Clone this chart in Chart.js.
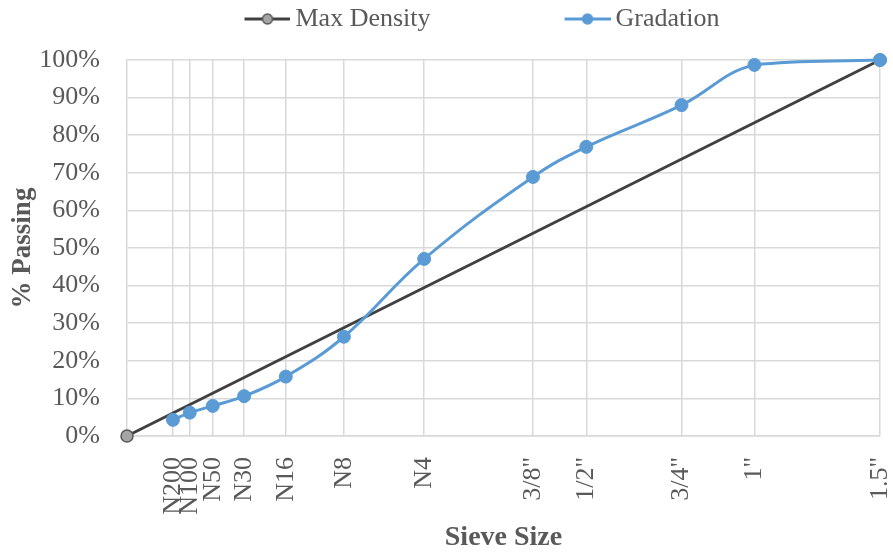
<!DOCTYPE html>
<html>
<head>
<meta charset="utf-8">
<script src="https://cdn.jsdelivr.net/npm/chart.js@4.4.1/dist/chart.umd.min.js"></script>
<style>
    html, body { margin: 0; padding: 0; background: #fff; }
    canvas { display: block; }
</style>
</head>
<body>
<canvas id="gradation-chart" width="893" height="552"></canvas>
<script>
// sieve openings (mm) and their labels
const sieveLabels = ['N200', 'N100', 'N50', 'N30', 'N16', 'N8', 'N4', '3/8"', '1/2"', '3/4"', '1"', '1.5"'];
const sieveSizesMm = [0.075, 0.15, 0.3, 0.6, 1.18, 2.36, 4.75, 9.5, 12.5, 19, 25, 37.5];

// % passing
const gradationPassing = [4.3, 6.2, 8.0, 10.6, 15.8, 26.4, 47.1, 68.9, 76.9, 88.0, 98.7, 100];

// maximum density line: origin to the nominal max size
const maxDensitySizesMm = [0, 37.5];
const maxDensityPassing = [0, 100];

const yTickValues = [0, 10, 20, 30, 40, 50, 60, 70, 80, 90, 100];

const POWER = 0.45;
const TEXT_COLOR = '#595959';
const GRID_COLOR = '#d9d9d9';
const FONT_FAMILY = "'Liberation Serif', 'Times New Roman', serif";
const LEGEND_BOX = 162;
const LEGEND_DX = -20;
const LEGEND_DY = -18;

// 0.45 power gradation axis
class PowerScale extends Chart.LinearScale {
    getPixelForValue(value) {
        if (value === null || value === undefined) return NaN;
        const lo = Math.pow(this.min, POWER);
        const hi = Math.pow(this.max, POWER);
        return this.getPixelForDecimal((Math.pow(value, POWER) - lo) / (hi - lo));
    }
    getValueForPixel(pixel) {
        const lo = Math.pow(this.min, POWER);
        const hi = Math.pow(this.max, POWER);
        return Math.pow(lo + this.getDecimalForPixel(pixel) * (hi - lo), 1 / POWER);
    }
}
PowerScale.id = 'power045';
PowerScale.defaults = Chart.LinearScale.defaults;
Chart.register(PowerScale);

function legendSymbol(lineColor, fill, stroke) {
    const c = document.createElement('canvas');
    c.width = LEGEND_BOX + 16;
    c.height = 16;
    const g = c.getContext('2d');
    const x0 = c.width - 46;
    g.strokeStyle = lineColor;
    g.lineWidth = 3;
    g.beginPath();
    g.moveTo(x0, 8);
    g.lineTo(c.width, 8);
    g.stroke();
    g.beginPath();
    g.arc(x0 + 23, 8, 5, 0, Math.PI * 2);
    g.fillStyle = fill;
    g.fill();
    g.lineWidth = 1.5;
    g.strokeStyle = stroke;
    g.stroke();
    return c;
}

const legendNudge = {
    id: 'legendNudge',
    afterLayout(chart) {
        const lg = chart.legend;
        lg.left += LEGEND_DX;
        lg.right += LEGEND_DX;
        lg.top += LEGEND_DY;
        lg.bottom += LEGEND_DY;
    }
};

const symbols = [
    legendSymbol('#404040', '#a5a5a5', '#595959'),
    legendSymbol('#5b9bd5', '#5b9bd5', '#5b9bd5')
];

Chart.defaults.font.family = FONT_FAMILY;
Chart.defaults.color = TEXT_COLOR;

new Chart(document.getElementById('gradation-chart'), {
    type: 'line',
    data: {
        datasets: [{
            label: 'Max Density',
            data: maxDensitySizesMm.map((x, i) => ({ x, y: maxDensityPassing[i] })),
            borderColor: '#404040',
            borderWidth: 3,
            pointRadius: 6,
            pointBackgroundColor: '#a5a5a5',
            pointBorderColor: '#595959',
            pointBorderWidth: 1.5,
            tension: 0,
            clip: false,
            order: 1
        }, {
            label: 'Gradation',
            data: sieveSizesMm.map((x, i) => ({ x, y: gradationPassing[i] })),
            borderColor: '#5b9bd5',
            borderWidth: 3,
            pointRadius: 6.5,
            pointBackgroundColor: '#5b9bd5',
            pointBorderColor: '#5b9bd5',
            pointBorderWidth: 1,
            tension: 0.4,
            clip: false,
            order: 0
        }]
    },
    options: {
        responsive: false,
        animation: false,
        layout: { padding: { left: 0, right: 13, top: 14, bottom: 0 } },
        plugins: {
            tooltip: { enabled: false },
            legend: {
                position: 'top',
                labels: {
                    usePointStyle: true,
                    pointStyleWidth: LEGEND_BOX,
                    padding: 10,
                    color: TEXT_COLOR,
                    font: { size: 26 },
                    generateLabels: (chart) => chart.data.datasets.map((ds, i) => ({
                        text: ds.label,
                        pointStyle: symbols[i],
                        fontColor: TEXT_COLOR,
                        lineWidth: 0,
                        strokeStyle: 'transparent',
                        fillStyle: 'transparent',
                        datasetIndex: i,
                        hidden: false
                    }))
                }
            }
        },
        scales: {
            x: {
                type: 'power045',
                min: 0,
                max: 37.5,
                afterBuildTicks: (scale) => {
                    scale.ticks = sieveSizesMm.map(v => ({ value: v }));
                },
                afterFit: (scale) => {
                    scale.height = 116;
                    scale.paddingLeft = 0;
                    scale.paddingRight = 0;
                },
                ticks: {
                    autoSkip: false,
                    maxRotation: 90,
                    minRotation: 90,
                    padding: 21,
                    color: TEXT_COLOR,
                    font: { size: 26 },
                    callback: (value, index) => sieveLabels[index]
                },
                grid: { color: GRID_COLOR, lineWidth: 1.5, drawTicks: false },
                border: { color: GRID_COLOR, width: 1.5 },
                title: {
                    display: true,
                    text: 'Sieve Size',
                    color: TEXT_COLOR,
                    font: { size: 28, weight: 'bold' },
                    padding: { top: 0, bottom: -3 }
                }
            },
            y: {
                min: 0,
                max: 100,
                afterBuildTicks: (scale) => {
                    scale.ticks = yTickValues.map(v => ({ value: v }));
                },
                afterFit: (scale) => {
                    scale.width = 127;
                },
                ticks: {
                    padding: 27,
                    color: TEXT_COLOR,
                    font: { size: 26 },
                    callback: (value) => `${value}%`
                },
                grid: { color: GRID_COLOR, lineWidth: 1.5, drawTicks: false },
                border: { color: GRID_COLOR, width: 1.5 },
                title: {
                    display: true,
                    text: '% Passing',
                    color: TEXT_COLOR,
                    font: { size: 27, weight: 'bold' },
                    padding: { top: 7, bottom: 0 }
                }
            }
        }
    },
    plugins: [legendNudge]
});
</script>
</body>
</html>
